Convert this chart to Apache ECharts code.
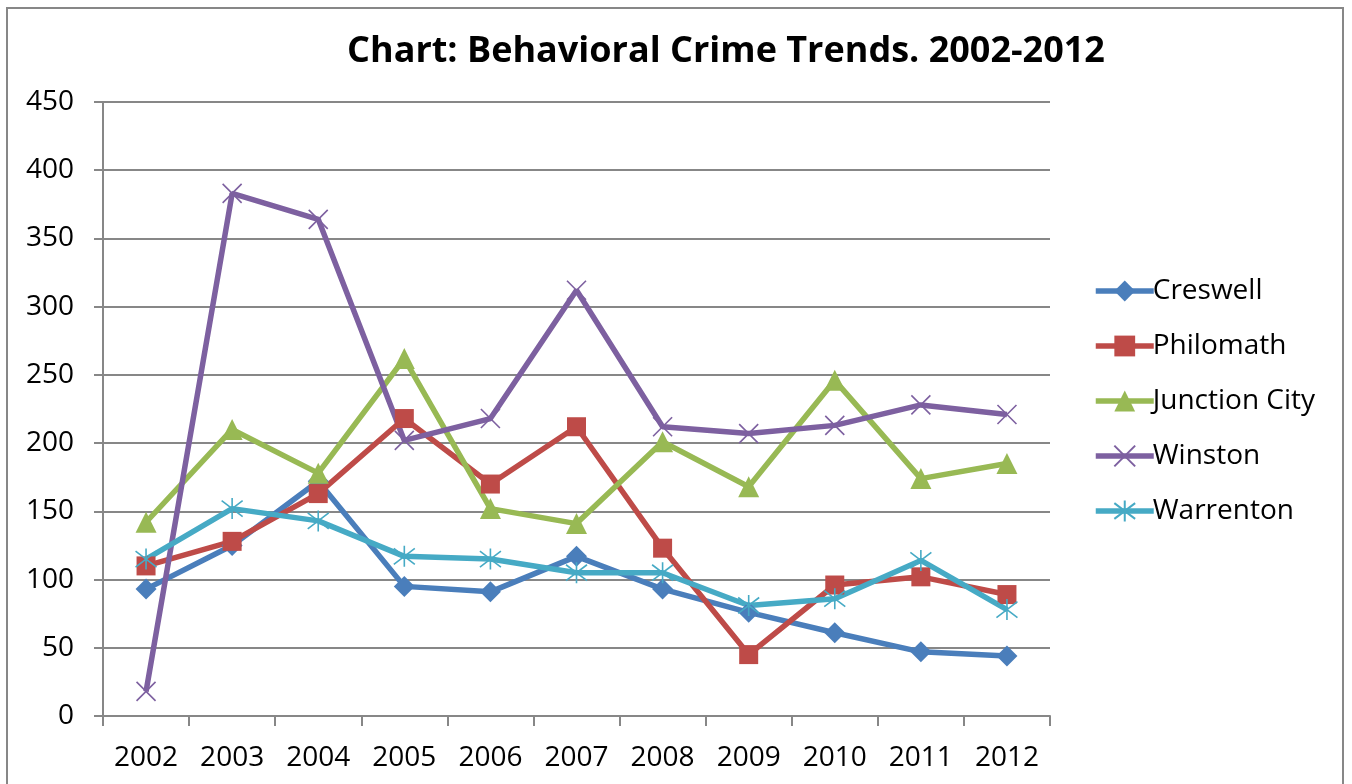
<!DOCTYPE html>
<html>
<head>
<meta charset="utf-8">
<script src="https://cdn.jsdelivr.net/npm/echarts@6/dist/echarts.min.js"></script>
<style>
html,body{margin:0;padding:0;background:#fff;}
#chart{width:1352px;height:784px;}
</style>
</head>
<body>
<div id="chart"></div>
<script>
var categories = ['2002','2003','2004','2005','2006','2007','2008','2009','2010','2011','2012'];
var creswell     = [93, 125, 172, 95, 91, 117, 93, 76, 61, 47, 44];
var philomath    = [110, 128, 163, 218, 170, 212, 123, 45, 96, 102, 89];
var junctionCity = [142, 210, 178, 262, 152, 141, 201, 168, 246, 174, 185];
var winston      = [18, 383, 364, 202, 218, 312, 212, 207, 213, 228, 221];
var warrenton    = [115, 152, 143, 117, 115, 105, 105, 81, 86, 114, 78];
var seriesNames  = ['Creswell','Philomath','Junction City','Winston','Warrenton'];
var yTicks = [0, 50, 100, 150, 200, 250, 300, 350, 400, 450];

var FONT = '"Open Sans", "Noto Sans", sans-serif';
var GRAY = '#878787';
var xPath = 'path://M0,0 L10,10 M10,0 L0,10';
var starPath = 'path://M5,0 L5,10 M1.2,1.2 L8.8,8.8 M8.8,1.2 L1.2,8.8';

function mk(name, data, color, symbol, size, stroked) {
  return {
    name: name,
    type: 'line',
    data: data,
    symbol: symbol,
    symbolSize: size,
    showAllSymbol: true,
    lineStyle: {color: color, width: 5.5},
    itemStyle: stroked ? {color: 'rgba(0,0,0,0)', borderColor: color, borderWidth: 1.6} : {color: color, borderWidth: 0},
    emphasis: {disabled: true},
    animation: false
  };
}

var chart = echarts.init(document.getElementById('chart'), null, {renderer: 'canvas'});
chart.setOption({
  backgroundColor: '#fff',
  animation: false,
  title: {
    text: 'Chart: Behavioral Crime Trends. 2002-2012',
    left: 721,
    textAlign: 'center',
    top: 29,
    textStyle: {fontFamily: FONT, fontWeight: 'bold', fontSize: 36, color: '#000'}
  },
  graphic: [{
    type: 'rect',
    shape: {x: 7, y: 8, width: 1336, height: 800},
    style: {fill: 'none', stroke: GRAY, lineWidth: 2},
    silent: true, z: -1
  }],
  legend: {
    orient: 'vertical',
    left: 1088,
    top: 272,
    itemWidth: 58,
    itemHeight: 26,
    itemGap: 27,
    data: seriesNames,
    lineStyle: {width: 5.5},
    textStyle: {fontFamily: FONT, fontSize: 28, color: '#000', padding: [0,0,0,-6]}
  },
  grid: {left: 103, right: 302, top: 102, bottom: 68, containLabel: false},
  xAxis: {
    type: 'category',
    data: categories,
    boundaryGap: true,
    axisLine: {show: true, lineStyle: {color: GRAY, width: 2}},
    axisTick: {show: true, length: 10, lineStyle: {color: GRAY, width: 2}},
    axisLabel: {fontFamily: FONT, fontSize: 28, color: '#000', margin: 28}
  },
  yAxis: {
    type: 'value',
    min: yTicks[0],
    max: yTicks[yTicks.length-1],
    interval: 50,
    axisLine: {show: true, lineStyle: {color: GRAY, width: 2}},
    axisTick: {show: true, length: 9, lineStyle: {color: GRAY, width: 2}},
    splitLine: {show: true, lineStyle: {color: GRAY, width: 2}},
    axisLabel: {fontFamily: FONT, fontSize: 28, color: '#000', margin: 29}
  },
  series: [
    mk(seriesNames[0], creswell, '#4a7ebb', 'diamond', 21, false),
    mk(seriesNames[1], philomath, '#be4b48', 'rect', 19, false),
    mk(seriesNames[2], junctionCity, '#98b954', 'triangle', 21, false),
    mk(seriesNames[3], winston, '#7d60a0', xPath, 19, true),
    mk(seriesNames[4], warrenton, '#46aac5', starPath, 21, true)
  ]
});
</script>
</body>
</html>
